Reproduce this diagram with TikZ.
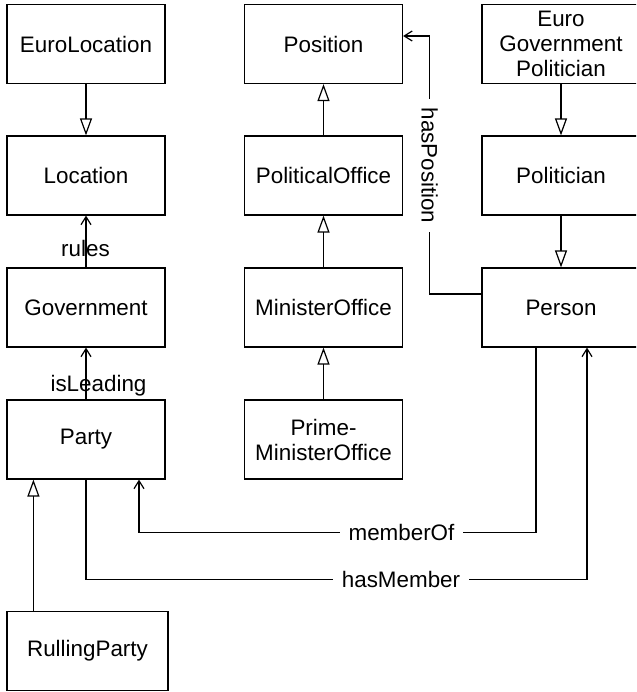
\documentclass[tikz,border=0pt]{standalone}
\usepackage{fontspec}
\setmainfont{Liberation Sans}
\usetikzlibrary{arrows.meta}
\begin{document}
\begin{tikzpicture}[x=1pt,y=-1pt,
  font=\fontsize{22.4}{25}\selectfont,
  cls/.style={draw, line width=1.2pt, minimum width=158pt, minimum height=79pt,
    inner sep=0pt, align=center},
  gen/.style={line width=1.2pt, -{Triangle[open,length=17pt,width=12pt,line width=1.2pt]}},
  assoc/.style={line width=1.2pt, -{Straight Barb[length=8pt,width=10pt,line width=1.2pt]}},
  lbl/.style={fill=white, inner xsep=8.5pt, inner ysep=1pt},
  tag/.style={inner sep=0pt, anchor=base}]
\clip (0,0) rectangle (636,692);
\fill[white] (0,0) rectangle (636,692);

% classes, left column
\node[cls] (euroloc) at (86,44)    {EuroLocation};
\node[cls] (loc)     at (86,175.5) {Location};
\node[cls] (gov)     at (86,307.5) {Government};
\node[cls] (party)   at (86,439.5) {Party};
\node[cls, minimum width=161pt] (rparty) at (87.5,651) {RullingParty};

% classes, middle column
\node[cls] (position) at (323.5,44)    {Position};
\node[cls] (polof)    at (323.5,175.5) {PoliticalOffice};
\node[cls] (minof)    at (323.5,307.5) {MinisterOffice};
\node[cls] (pmof)     at (323.5,439.5) {Prime-\\MinisterOffice};

% classes, right column
\node[cls] (egp)        at (561,44)    {Euro\\Government\\Politician};
\node[cls] (politician) at (561,175.5) {Politician};
\node[cls] (person)     at (561,307.5) {Person};

% generalisations
\draw[gen] (euroloc) -- (loc);
\draw[gen] (polof) -- (position);
\draw[gen] (minof) -- (polof);
\draw[gen] (pmof) -- (minof);
\draw[gen] (egp) -- (politician);
\draw[gen] (politician) -- (person);
\draw[gen] ([xshift=27pt]rparty.north west) -- ([xshift=27pt]party.south west);

% associations
\draw[assoc] (gov) -- (loc);
\node[tag] (rules) at (85.5,257) {rules};
\draw[assoc] (party) -- (gov);
\node[tag] (isleading) at (98.5,391) {isLeading};

\draw[assoc] ([yshift=13.5pt]person.west) -| ([xshift=26pt,yshift=8pt]position.east)
  -- ([yshift=8pt]position.east);
\node[lbl, rotate=-90] (haspos) at (429.5,165.5) {hasPosition};

\draw[assoc] ([xshift=-25pt]person.south) |- ([xshift=53pt,yshift=-53pt]party.south)
  -- ([xshift=53pt]party.south);
\node[lbl] (memberof) at (401.5,532) {memberOf};

\draw[assoc] (party.south) |- ([xshift=26pt,yshift=-232pt]person.south)
  -- ([xshift=26pt]person.south);
\node[lbl] (hasmember) at (401,579) {hasMember};
\end{tikzpicture}
\end{document}
